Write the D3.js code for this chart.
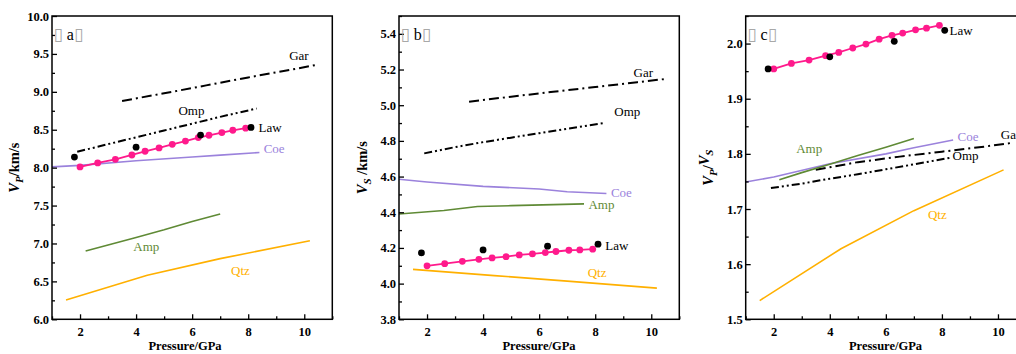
<!DOCTYPE html>
<html>
<head>
<meta charset="utf-8">
<script src="https://cdn.jsdelivr.net/npm/d3@7"></script>
<style>
  html, body { margin: 0; padding: 0; background: #fff; overflow: hidden; }
  svg { display: block; font-family: "Liberation Serif", "Times New Roman", serif; }
</style>
</head>
<body>
<svg id="chart" width="1016" height="354"></svg>
<script>
// Pressure axis
const pressureDomain = [1, 11];
const pressureTicks = [2, 4, 6, 8, 10];
const pressureMinor = [1, 3, 5, 7, 9, 11];

// Lawsonite model curve (pink, with markers)
const lawP     = [2.0, 2.63, 3.26, 3.85, 4.32, 4.82, 5.29, 5.76, 6.22, 6.6, 7.06, 7.45, 7.91];
const lawVp    = [8.01, 8.062, 8.11, 8.167, 8.216, 8.26, 8.308, 8.35, 8.396, 8.427, 8.463, 8.493, 8.52];
const lawVs    = [4.10, 4.112, 4.125, 4.136, 4.144, 4.151, 4.161, 4.167, 4.174, 4.18, 4.187, 4.189, 4.193];
const lawVpVs  = [1.954, 1.964, 1.970, 1.978, 1.984, 1.992, 1.999, 2.008, 2.015, 2.019, 2.025, 2.028, 2.033];

// Lawsonite reference points (black dots)
const refP     = [1.8, 4.0, 6.3, 8.1];
const refVp    = [8.14, 8.27, 8.43, 8.53];
const refVs    = [4.172, 4.189, 4.21, 4.221];
const refVpVs  = [1.954, 1.976, 2.004, 2.024];

// Garnet
const garP     = [3.5, 5, 6.5, 8, 9.5, 10.5];
const garVp    = [8.88, 8.98, 9.085, 9.19, 9.29, 9.36];
const garVs    = [5.02, 5.048, 5.075, 5.102, 5.129, 5.147];
const garVpVs  = [1.771, 1.785, 1.795, 1.804, 1.813, 1.82];

// Omphacite
const ompP     = [1.9, 3, 4, 5, 6, 7, 8.3];
const ompVp    = [8.21, 8.31, 8.40, 8.49, 8.58, 8.67, 8.78];
const ompVs    = [4.73, 4.765, 4.793, 4.818, 4.843, 4.868, 4.9];
const ompVpVs  = [1.738, 1.746, 1.755, 1.763, 1.772, 1.781, 1.793];

// Coesite
const coeP     = [1, 2, 4, 6, 7, 8.4];
const coeVp    = [8.01, 8.03, 8.09, 8.14, 8.165, 8.2];
const coeVs    = [4.585, 4.57, 4.545, 4.53, 4.515, 4.505];
const coeVpVs  = [1.749, 1.758, 1.782, 1.80, 1.811, 1.825];

// Amphibole
const ampP     = [2.2, 3, 4, 5, 6, 7];
const ampVp    = [6.9, 6.98, 7.08, 7.18, 7.29, 7.39];
const ampVpVs  = [1.753, 1.766, 1.781, 1.797, 1.812, 1.828];
const ampPs    = [1, 2.6, 3.8, 5, 6.5, 7.6];
const ampVs    = [4.39, 4.41, 4.432, 4.437, 4.443, 4.447];

// Quartz
const qtzP     = [1.5, 4.4, 7, 10.2];
const qtzVp    = [6.255, 6.58, 6.8, 7.035];
const qtzVs    = [4.08, 4.045, 4.014, 3.975];
const qtzVpVs  = [1.534, 1.628, 1.697, 1.771];

// Vertical ticks
const vpTicks = [6.0, 6.5, 7.0, 7.5, 8.0, 8.5, 9.0, 9.5, 10.0];
const vpMinor = [6.25, 6.75, 7.25, 7.75, 8.25, 8.75, 9.25, 9.75];
const vsTicks = [3.8, 4.0, 4.2, 4.4, 4.6, 4.8, 5.0, 5.2, 5.4];
const vsMinor = [3.9, 4.1, 4.3, 4.5, 4.7, 4.9, 5.1, 5.3, 5.5];
const ratioTicks = [1.5, 1.6, 1.7, 1.8, 1.9, 2.0];
const ratioMinor = [1.55, 1.65, 1.75, 1.85, 1.95, 2.05];

const COLORS = {
  law: "#ff1a8c",
  coe: "#9b82dc",
  amp: "#5f8a35",
  qtz: "#ffb000",
  black: "#000"
};
const DASH_GAR = "10,4,2,4";
const DASH_OMP = "8,3,2,3,2,3";

const zip = (xs, ys) => xs.map((x, i) => [x, ys[i]]);

const svg = d3.select("#chart");

const panels = [
  {
    letter: "a", left: 52, yDomain: [6.0, 10.0], ticks: vpTicks, minor: vpMinor,
    titleX: 19, title: [["V", "italic", false], ["P", "italic", true], ["/km/s", "normal", false]],
    xTitleX: 185,
    lines: [
      { d: zip(garP, garVp), color: COLORS.black, dash: DASH_GAR, w: 2 },
      { d: zip(ompP, ompVp), color: COLORS.black, dash: DASH_OMP, w: 2 },
      { d: zip(coeP, coeVp), color: COLORS.coe, w: 1.6 },
      { d: zip(ampP, ampVp), color: COLORS.amp, w: 1.6 },
      { d: zip(qtzP, qtzVp), color: COLORS.qtz, w: 1.6 },
      { d: zip(lawP, lawVp), color: COLORS.law, w: 1.8, markers: true }
    ],
    dots: zip(refP, refVp),
    labels: [
      ["Gar", 9.46, 9.42, COLORS.black], ["Omp", 5.51, 8.70, COLORS.black],
      ["Law", 8.37, 8.47, COLORS.black], ["Coe", 8.55, 8.19, COLORS.coe],
      ["Amp", 3.9, 6.90, COLORS.amp], ["Qtz", 7.39, 6.58, COLORS.qtz]
    ]
  },
  {
    letter: "b", left: 399, yDomain: [3.8, 5.5], ticks: vsTicks, minor: vsMinor,
    titleX: 367, title: [["V", "italic", false], ["S", "italic", true], [" /km/s", "normal", false]],
    xTitleX: 539,
    lines: [
      { d: zip(garP, garVs), color: COLORS.black, dash: DASH_GAR, w: 2 },
      { d: zip(ompP, ompVs), color: COLORS.black, dash: DASH_OMP, w: 2 },
      { d: zip(coeP, coeVs), color: COLORS.coe, w: 1.6 },
      { d: zip(ampPs, ampVs), color: COLORS.amp, w: 1.6 },
      { d: zip(qtzP, qtzVs), color: COLORS.qtz, w: 1.6 },
      { d: zip(lawP, lawVs), color: COLORS.law, w: 1.8, markers: true }
    ],
    dots: zip(refP, refVs),
    labels: [
      ["Gar", 9.37, 5.158, COLORS.black], ["Omp", 8.68, 4.942, COLORS.black],
      ["Coe", 8.56, 4.486, COLORS.coe], ["Amp", 7.76, 4.417, COLORS.amp],
      ["Law", 8.36, 4.191, COLORS.black], ["Qtz", 7.73, 4.039, COLORS.qtz]
    ]
  },
  {
    letter: "c", left: 745.7, yDomain: [1.5, 2.05], ticks: ratioTicks, minor: ratioMinor,
    titleX: 713, title: [["V", "italic", false], ["P", "italic", true], ["/", "normal", false], ["V", "italic", false], ["S", "italic", true]],
    xTitleX: 885.5,
    lines: [
      { d: zip(garP, garVpVs), color: COLORS.black, dash: DASH_GAR, w: 2 },
      { d: zip(ompP, ompVpVs), color: COLORS.black, dash: DASH_OMP, w: 2 },
      { d: zip(coeP, coeVpVs), color: COLORS.coe, w: 1.6 },
      { d: zip(ampP, ampVpVs), color: COLORS.amp, w: 1.6 },
      { d: zip(qtzP, qtzVpVs), color: COLORS.qtz, w: 1.6 },
      { d: zip(lawP, lawVpVs), color: COLORS.law, w: 1.8, markers: true }
    ],
    dots: zip(refP, refVpVs),
    labels: [
      ["Law", 8.27, 2.016, COLORS.black], ["Amp", 2.8, 1.802, COLORS.amp],
      ["Coe", 8.56, 1.823, COLORS.coe], ["Gar", 10.1, 1.827, COLORS.black],
      ["Omp", 8.38, 1.788, COLORS.black], ["Qtz", 7.5, 1.682, COLORS.qtz]
    ]
  }
];

const TOP = 16, BOTTOM = 319.3, PLOT_W = 280.3;

panels.forEach(p => {
  const x = d3.scaleLinear().domain(pressureDomain).range([p.left, p.left + PLOT_W]);
  const y = d3.scaleLinear().domain(p.yDomain).range([BOTTOM, TOP]);
  const g = svg.append("g");

  // data curves
  const line = d3.line().x(d => x(d[0])).y(d => y(d[1]));
  p.lines.forEach(s => {
    g.append("path")
      .attr("d", line(s.d))
      .attr("fill", "none")
      .attr("stroke", s.color)
      .attr("stroke-width", s.w)
      .attr("stroke-dasharray", s.dash || null)
      .attr("stroke-linejoin", "round");
    if (s.markers) {
      g.selectAll(null).data(s.d).join("circle")
        .attr("cx", d => x(d[0])).attr("cy", d => y(d[1]))
        .attr("r", 3.4).attr("fill", s.color);
    }
  });

  // reference points
  g.selectAll(null).data(p.dots).join("circle")
    .attr("cx", d => x(d[0])).attr("cy", d => y(d[1]))
    .attr("r", 3.4).attr("fill", "#000");

  // curve labels
  p.labels.forEach(([t, px, py, c]) => {
    g.append("text").attr("x", x(px)).attr("y", y(py))
      .attr("font-size", 13).attr("fill", c).text(t);
  });

  // axes (ticks pointing inward)
  g.append("g").attr("transform", `translate(0,${BOTTOM})`)
    .call(d3.axisBottom(x).tickValues(pressureTicks).tickSize(-5).tickPadding(8).tickFormat(d3.format("d")));
  g.append("g").attr("transform", `translate(0,${BOTTOM})`)
    .call(d3.axisBottom(x).tickValues(pressureMinor).tickSize(-3).tickFormat(""));
  g.append("g").attr("transform", `translate(${p.left},0)`)
    .call(d3.axisLeft(y).tickValues(p.ticks).tickSize(-5).tickPadding(3).tickFormat(d3.format(".1f")));
  g.append("g").attr("transform", `translate(${p.left},0)`)
    .call(d3.axisLeft(y).tickValues(p.minor).tickSize(-3).tickFormat(""));

  g.selectAll(".domain").remove();
  g.selectAll(".tick line").attr("stroke", "#000").attr("stroke-width", 1.3);
  g.selectAll(".tick text")
    .attr("font-family", "'Liberation Serif', serif")
    .attr("font-size", 12.5).attr("font-weight", "bold").attr("fill", "#000");

  // frame
  g.append("rect")
    .attr("x", p.left).attr("y", TOP)
    .attr("width", PLOT_W).attr("height", BOTTOM - TOP)
    .attr("fill", "none").attr("stroke", "#000").attr("stroke-width", 1.5);

  // panel letter
  const pl = g.append("text").attr("x", p.left + 1.5).attr("y", 40).attr("font-size", 16);
  pl.append("tspan").attr("fill", "#a8a8a8").attr("font-family", "'DejaVu Sans', sans-serif").attr("font-size", 17).text("▯");
  pl.append("tspan").attr("fill", "#000").text(" " + p.letter);
  pl.append("tspan").attr("fill", "#a8a8a8").attr("font-family", "'DejaVu Sans', sans-serif").attr("font-size", 17).text("▯");

  // x title
  g.append("text").attr("x", p.xTitleX).attr("y", 349.5)
    .attr("text-anchor", "middle").attr("font-size", 12.5).attr("font-weight", "bold")
    .text("Pressure/GPa");

  // y title
  const yt = g.append("text")
    .attr("transform", `translate(${p.titleX},${(TOP + BOTTOM) / 2}) rotate(-90)`)
    .attr("text-anchor", "middle").attr("font-size", 14.5).attr("font-weight", "bold");
  p.title.forEach(([t, style, sub]) => {
    const ts = yt.append("tspan").attr("font-style", style).text(t);
    if (sub) ts.attr("font-size", 11).attr("dy", 4);
    else if (yt.selectAll("tspan").size() > 1) ts.attr("dy", -4);
  });
});
</script>
</body>
</html>
